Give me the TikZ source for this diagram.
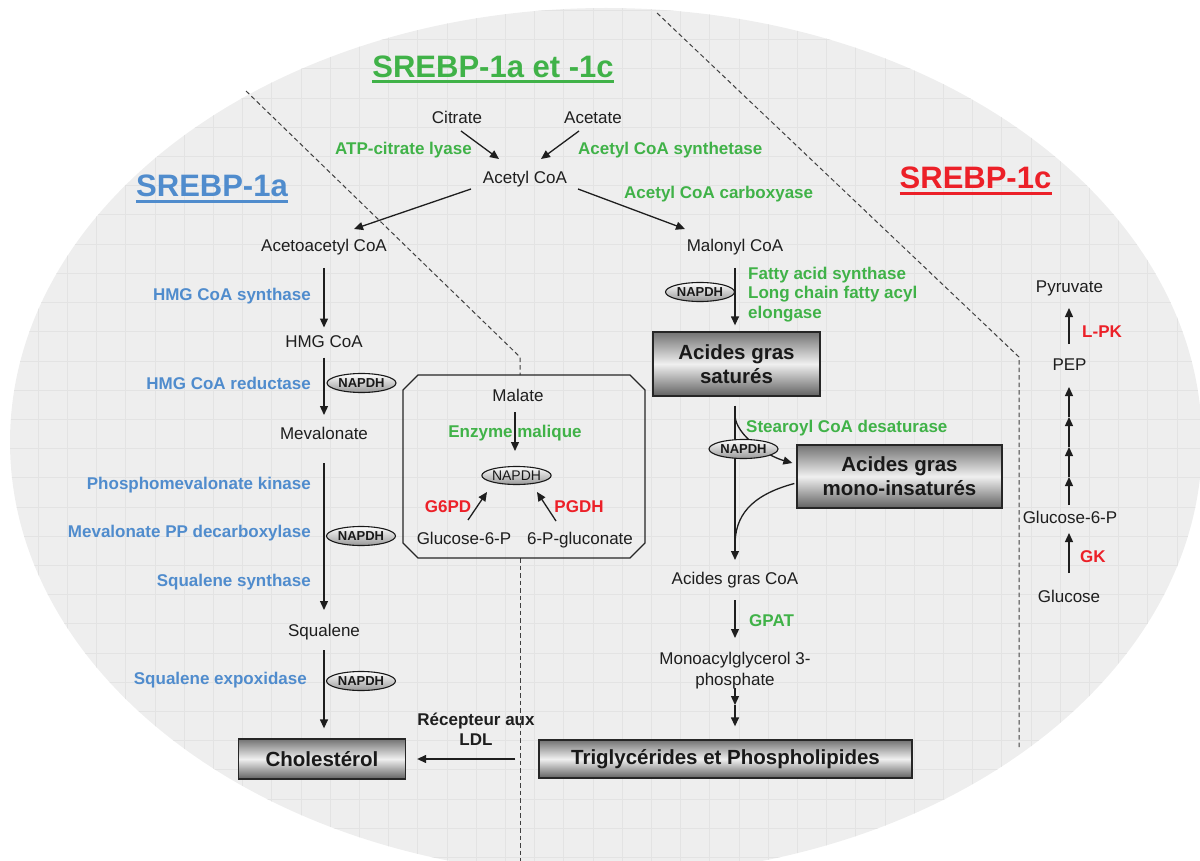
\documentclass[tikz,border=0pt]{standalone}
\usepackage{fontspec}
\setmainfont{Liberation Sans}
\usetikzlibrary{arrows.meta,shapes.geometric,calc}
\definecolor{grn}{RGB}{64,178,72}
\definecolor{blu}{RGB}{80,140,205}
\definecolor{rd}{RGB}{236,32,40}
\definecolor{txtc}{RGB}{30,30,30}
\definecolor{bg}{RGB}{238,238,238}
\definecolor{gridc}{RGB}{227,227,227}
\tikzset{
  lbl/.style={inner sep=0pt, text=txtc, font=\fontsize{17}{20.5}\selectfont},
  enz/.style={inner sep=0pt, font=\bfseries\fontsize{17}{20.5}\selectfont},
  egreen/.style={enz, text=grn},
  eblue/.style={enz, text=blu},
  ered/.style={enz, text=rd},
  head/.style={inner sep=0pt, font=\bfseries\fontsize{31}{36}\selectfont},
  metal/.style={draw=black!85, line width=1.3pt, top color=black!55, bottom color=black!62, middle color=white!94!black, font=\bfseries\fontsize{20.5}{24}\selectfont, text=black!90, align=center, inner sep=0pt},
  napdh/.style={ellipse, draw=black!90, line width=1.1pt, top color=white, bottom color=black!40, minimum width=69pt, minimum height=19pt, inner sep=0pt, font=\bfseries\fontsize{13}{13}\selectfont, text=black!90},
  arr/.style={draw=txtc, line width=1.3pt, -{Triangle[length=9pt,width=8pt]}},
  ln/.style={draw=txtc, line width=1.3pt},
  sep/.style={draw=black!75, line width=1pt, dash pattern=on 4.5pt off 3pt},
  boxline/.style={draw=black!85, line width=1.3pt},
}
\begin{document}
\begin{tikzpicture}[x=1pt,y=-1pt]
\useasboundingbox (0,0) rectangle (1200,861);
% background ellipse with grid
\begin{scope}
\clip (0,0) rectangle (1200,861);
\clip (606,442) ellipse [x radius=596, y radius=434];
\fill[bg] (0,0) rectangle (1200,900);
\foreach \i in {0,...,41} \draw[gridc, line width=0.8pt] ({9+29.2*\i},0) -- ({9+29.2*\i},900);
\foreach \j in {0,...,30} \draw[gridc, line width=0.8pt] (0,{10.5+29.2*\j}) -- (1200,{10.5+29.2*\j});
\end{scope}
% separators
\draw[sep] (246,91) -- (520,357) -- (520,375);
\draw[sep] (520,558) -- (520,861);
\draw[sep] (657,13) -- (1019,357) -- (1019,750);
% malate box
\draw[boxline] (418,375) -- (630,375) -- (645,390) -- (645,543) -- (630,558) -- (418,558) -- (403,543) -- (403,390) -- cycle;
% headings
\node[head, text=grn, anchor=base] (h1) at (493,78) {SREBP-1a et -1c};
\draw[grn, line width=3pt] ($(h1.base west)+(0,4)$) -- ($(h1.base east)+(0,4)$);
\node[head, text=blu, anchor=base] (h2) at (212,197) {SREBP-1a};
\draw[blu, line width=3pt] ($(h2.base west)+(0,4.5)$) -- ($(h2.base east)+(0,4.5)$);
\node[head, text=rd, anchor=base] (h3) at (975.5,189) {SREBP-1c};
\draw[rd, line width=3pt] ($(h3.base west)+(0,4.5)$) -- ($(h3.base east)+(0,4.5)$);
% top
\node[lbl, anchor=base] (citrate) at (457,124) {Citrate};
\node[lbl, anchor=base] (acetate) at (593,124) {Acetate};
\node[egreen, anchor=base east] (atpcl) at (472,154.5) {ATP-citrate lyase};
\node[egreen, anchor=base west] (acs) at (578,154.5) {Acetyl CoA synthetase};
\node[lbl, anchor=base] (acetylcoa) at (525,184) {Acetyl CoA};
\node[lbl, anchor=base] (acetoacetyl) at (324,252) {Acetoacetyl CoA};
\node[lbl, anchor=base] (malonyl) at (735,252) {Malonyl CoA};
\node[egreen, anchor=base west] (acc) at (624,199) {Acetyl CoA carboxyase};
% left column
\node[eblue, anchor=base east] (hmgs) at (311,301) {HMG CoA synthase};
\node[lbl, anchor=base] (hmgcoa) at (324,347.5) {HMG CoA};
\node[eblue, anchor=base east] (hmgr) at (311,389) {HMG CoA reductase};
\node[lbl, anchor=base] (mev) at (324,439) {Mevalonate};
\node[eblue, anchor=base east] (pmk) at (311,489) {Phosphomevalonate kinase};
\node[eblue, anchor=base east] (mpd) at (311,537) {Mevalonate PP decarboxylase};
\node[eblue, anchor=base east] (sqs) at (311,586) {Squalene synthase};
\node[lbl, anchor=base] (squalene) at (324,636) {Squalene};
\node[eblue, anchor=base east] (sqe) at (307,684) {Squalene expoxidase};
\node[metal, minimum width=167pt, minimum height=40pt] (chol) at (322,759) {Cholestérol};
\node[enz, text=txtc, align=center, anchor=base] (ldl) at (476,745.5) {Récepteur aux\\LDL};
% malate box content
\node[lbl, anchor=base] (malate) at (518,401) {Malate};
\node[egreen, anchor=base] (enzm) at (515,437) {Enzyme malique};
\node[ered, anchor=base] (g6pd) at (448,512) {G6PD};
\node[ered, anchor=base] (pgdh) at (579,512) {PGDH};
\node[lbl, anchor=base] (g6pA) at (464,544.5) {Glucose-6-P};
\node[lbl, anchor=base] (pglu) at (580,544.5) {6-P-gluconate};
% middle right
\node[egreen, anchor=base west, align=left, font=\bfseries\fontsize{17}{19.5}\selectfont] (fas) at (748,318) {Fatty acid synthase\\Long chain fatty acyl\\elongase};
\node[metal, minimum width=167pt, minimum height=64pt] (sat) at (736.5,364) {Acides gras\\saturés};
\node[egreen, anchor=base west] (scd) at (746,432) {Stearoyl CoA desaturase};
\node[metal, minimum width=205pt, minimum height=63pt] (mono) at (899.5,476.5) {Acides gras\\mono-insaturés};
\node[lbl, anchor=base] (agcoa) at (735,584.5) {Acides gras CoA};
\node[egreen, anchor=base west] (gpat) at (749,626) {GPAT};
\node[lbl, anchor=base, align=center, font=\fontsize{17}{21}\selectfont] (mag) at (735,685) {Monoacylglycerol 3-\\phosphate};
\node[metal, minimum width=373pt, minimum height=38pt] (tg) at (725.5,759) {Triglycérides et Phospholipides};
% right column
\node[lbl, anchor=base] (pyr) at (1069.5,292) {Pyruvate};
\node[ered, anchor=base west] (lpk) at (1082,337) {L-PK};
\node[lbl, anchor=base] (pep) at (1069.5,370) {PEP};
\node[lbl, anchor=base] (g6pB) at (1070,523) {Glucose-6-P};
\node[ered, anchor=base west] (gk) at (1080,562) {GK};
\node[lbl, anchor=base] (glc) at (1069,602) {Glucose};
% connectors
\draw[arr] ($(citrate.base)+(4,7)$) -- ($(acetylcoa.base)+(-26,-25)$);
\draw[arr] ($(acetate.base)+(-14,7)$) -- ($(acetylcoa.base)+(16,-25)$);
\draw[arr] ($(acetylcoa.base)+(-54,5)$) -- ($(acetoacetyl.base)+(30,-23)$);
\draw[arr] ($(acetylcoa.base)+(53,5)$) -- ($(malonyl.base)+(-50,-23)$);
\draw[arr] ($(acetoacetyl.base)+(0,16)$) -- ($(hmgcoa.base)+(0,-20)$);
\draw[arr] ($(hmgcoa.base)+(0,10)$) -- ($(mev.base)+(0,-24)$);
\draw[arr] ($(mev.base)+(0,24)$) -- ($(squalene.base)+(0,-26)$);
\draw[arr] ($(squalene.base)+(0,14)$) -- ($(chol.north)+(2,-10)$);
\draw[arr] ($(tg.west)+(-23,0)$) -- ($(chol.east)+(11,0)$);
\node[napdh, font=\fontsize{14}{14}\selectfont, minimum height=18pt] (napdhM) at (516.5,475.5) {NAPDH};
\draw[arr] ($(malate.base)+(-3,11)$) -- ($(napdhM.center)+(-1.5,-24.5)$);
\draw[arr] ($(g6pA.base)+(4,-24.5)$) -- ($(napdhM.center)+(-29.5,16.5)$);
\draw[arr] ($(pglu.base)+(-24,-23.5)$) -- ($(napdhM.center)+(20.5,16.5)$);
\draw[arr] ($(malonyl.base)+(0,16)$) -- ($(sat.north)+(-1.5,-6)$);
\draw[arr] ($(sat.south)+(-1.5,9)$) -- ($(agcoa.base)+(0,-24.5)$);
\draw[arr] ($(sat.south)+(-1.5,19)$) .. controls +(1,20) and +(-25,-7) .. ($(mono.west)+(-4,-13.5)$);
\draw[ln] ($(mono.west)+(-2,7)$) .. controls +(-45,12) and +(0,-28) .. ($(agcoa.base)+(0,-39.5)$);
\draw[arr] ($(agcoa.base)+(0,15.5)$) -- ($(mag.base)+(0,-47)$);
\coordinate (dbl) at ($(mag.base)+(0,20)$);
\draw[arr] ($(mag.base)+(0,3)$) -- (dbl);
\draw[arr] (dbl) -- ($(tg.north)+(9.5,-13)$);
\draw[arr] ($(pep.base)+(-0.5,-26)$) -- ($(pyr.base)+(-0.5,16)$);
\coordinate (s1) at ($(g6pB.base)+(-1,-46)$);
\coordinate (s2) at ($(g6pB.base)+(-1,-76)$);
\coordinate (s3) at ($(g6pB.base)+(-1,-106)$);
\draw[arr] ($(g6pB.base)+(-1,-18)$) -- (s1);
\draw[arr] (s1) -- (s2);
\draw[arr] (s2) -- (s3);
\draw[arr] (s3) -- ($(pep.base)+(-0.5,17)$);
\draw[arr] ($(glc.base)+(0,-29)$) -- ($(g6pB.base)+(-1,10)$);
% NAPDH tags
\node[napdh] (napdh1) at (361.5,383) {NAPDH};
\node[napdh] (napdh2) at (361,536) {NAPDH};
\node[napdh] (napdh3) at (361,681) {NAPDH};
\node[napdh] (napdh4) at (700,292) {NAPDH};
\node[napdh] (napdh5) at (743.5,449) {NAPDH};
\end{tikzpicture}
\end{document}
